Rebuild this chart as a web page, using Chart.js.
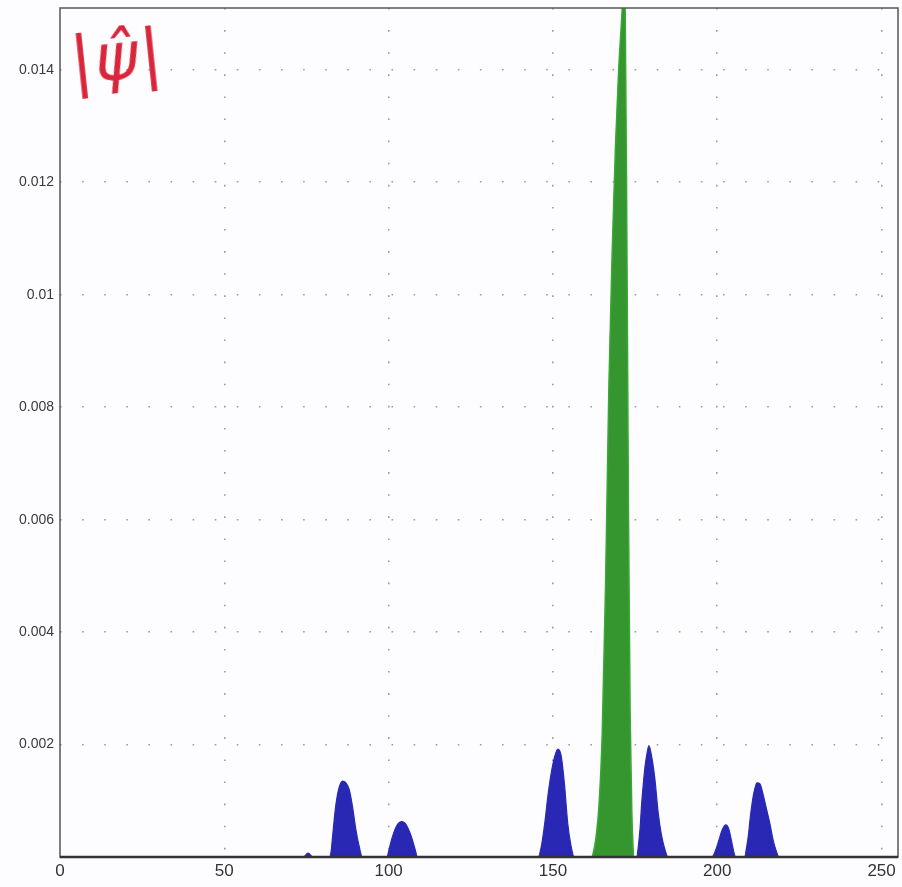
<!DOCTYPE html>
<html>
<head>
<meta charset="utf-8">
<script src="https://cdn.jsdelivr.net/npm/chart.js@4.4.1/dist/chart.umd.min.js"></script>
<style>
  html, body { margin: 0; padding: 0; background: #fdfdff; }
  #wrap { position: relative; width: 902px; height: 887px; }
  #note {
    position: absolute; left: 70px; top: 18px;
    font-family: "DejaVu Sans", sans-serif; font-style: italic;
    font-size: 66px; color: #d9263a; letter-spacing: 2px;
    transform: rotate(-6deg); pointer-events: none;
  }
</style>
</head>
<body>
<div id="wrap">
  <canvas id="c" width="902" height="887"></canvas>
  <div id="note">|ψ̂|</div>
</div>
<script>
// ——— DATA ———
const xTicks = [0, 50, 100, 150, 200, 250];
const yTicks = [0.002, 0.004, 0.006, 0.008, 0.01, 0.012, 0.014];

// blue side peaks
const blueX = [0, 74, 75.5, 77,
  82, 82.5, 83, 83.5, 84, 85, 86, 87, 88, 89, 90, 91, 92,
  99.5, 100, 100.5, 101, 102, 103, 104, 105, 106, 107, 107.5, 108, 108.8,
  145.5, 146.5, 147.5, 148.5, 149.5, 150.5, 151.5, 152.5, 153.5, 154.5, 155.5, 156.5,
  175.5, 176, 176.5, 177, 177.5, 178, 178.5, 179.2, 180, 181, 182, 183, 184, 185,
  198.3, 199, 199.7, 200.5, 201.5, 202.6, 203.5, 204.3, 205, 205.6,
  208.3, 209, 209.5, 210, 211, 212.1, 213, 214, 215, 216, 217, 218, 218.8, 255];
const blueY = [0, 0, 0.00007, 0,
  0, 0.0001, 0.0004, 0.0007, 0.00095, 0.00125, 0.00135, 0.00132, 0.0012, 0.0009, 0.0005, 0.0002, 0,
  0, 0.0001, 0.00022, 0.00033, 0.0005, 0.0006, 0.00063, 0.0006, 0.0005, 0.00035, 0.00025, 0.00015, 0,
  0, 0.0002, 0.0006, 0.0011, 0.0015, 0.00178, 0.00192, 0.0018, 0.0013, 0.0006, 0.0002, 0,
  0, 0.0002, 0.0005, 0.00095, 0.0013, 0.0016, 0.0018, 0.00198, 0.0018, 0.0014, 0.0008, 0.0004, 0.00015, 0,
  0, 0.00005, 0.00015, 0.0003, 0.00048, 0.00057, 0.0005, 0.0003, 0.0001, 0,
  0, 0.0002, 0.0004, 0.00068, 0.0011, 0.00132, 0.0013, 0.0011, 0.00085, 0.0006, 0.0003, 0.0001, 0, 0];

// green main peak
const greenX = [162, 163, 164, 165, 166, 167, 168, 169, 170, 171, 171.5, 172, 172.5, 173, 173.5, 174, 174.5];
const greenY = [0, 0.0003, 0.0009, 0.0022, 0.0048, 0.0083, 0.0107, 0.0126, 0.014, 0.015, 0.0156, 0.015, 0.011, 0.006, 0.0025, 0.0008, 0];

const toPts = (xs, ys) => xs.map((x, i) => ({ x, y: ys[i] }));

// ——— FRAME ———
const frame = {
  id: 'frame',
  afterDatasetsDraw(chart) {
    const { ctx, chartArea: a } = chart;
    ctx.save();
    ctx.strokeStyle = '#555';
    ctx.lineWidth = 1.5;
    ctx.strokeRect(a.left, a.top, a.right - a.left, a.bottom - a.top);
    ctx.lineWidth = 2.5;
    ctx.strokeStyle = '#333';
    ctx.beginPath();
    ctx.moveTo(a.left, a.bottom);
    ctx.lineTo(a.right, a.bottom);
    ctx.stroke();
    ctx.restore();
  }
};

const gridOpts = {
  color: '#9a9aa0',
  lineWidth: 1.6,
  drawTicks: false
};

new Chart(document.getElementById('c'), {
  type: 'line',
  data: {
    datasets: [
      {
        data: toPts(blueX, blueY),
        borderColor: '#2a2ab8',
        backgroundColor: '#2828b4',
        borderWidth: 1.2,
        fill: 'origin',
        pointRadius: 0,
        cubicInterpolationMode: 'monotone'
      },
      {
        data: toPts(greenX, greenY),
        borderColor: '#3aa834',
        backgroundColor: '#35952e',
        borderWidth: 1.5,
        fill: 'origin',
        pointRadius: 0,
        cubicInterpolationMode: 'monotone'
      }
    ]
  },
  options: {
    responsive: false,
    animation: false,
    layout: { padding: { top: 8, right: 4, left: 0, bottom: 0 } },
    plugins: { legend: { display: false }, tooltip: { enabled: false } },
    scales: {
      x: {
        type: 'linear',
        min: 0,
        max: 255,
        afterBuildTicks: s => { s.ticks = xTicks.map(v => ({ value: v })); },
        afterFit: s => { s.height = 30; },
        grid: { ...gridOpts, color: c => (c.tick && c.tick.value === 0) ? 'rgba(0,0,0,0)' : '#9a9aa0' },
        border: { display: false, dash: [1.6, 20.5] },
        ticks: {
          padding: 4,
          color: '#333',
          font: { family: 'Liberation Sans', size: 17 },
          maxRotation: 0,
          callback: v => String(v)
        }
      },
      y: {
        type: 'linear',
        min: 0,
        max: 0.0151,
        afterBuildTicks: s => { s.ticks = yTicks.map(v => ({ value: v })); },
        afterFit: s => { s.width = 60; s.paddingTop = 0; s.paddingBottom = 0; },
        grid: gridOpts,
        border: { display: false, dash: [1.6, 20.5] },
        ticks: {
          padding: 6,
          color: '#3a3a3a',
          font: { family: 'Liberation Sans', size: 14 },
          callback: v => String(+v.toFixed(4))
        }
      }
    }
  },
  plugins: [frame]
});
</script>
</body>
</html>
